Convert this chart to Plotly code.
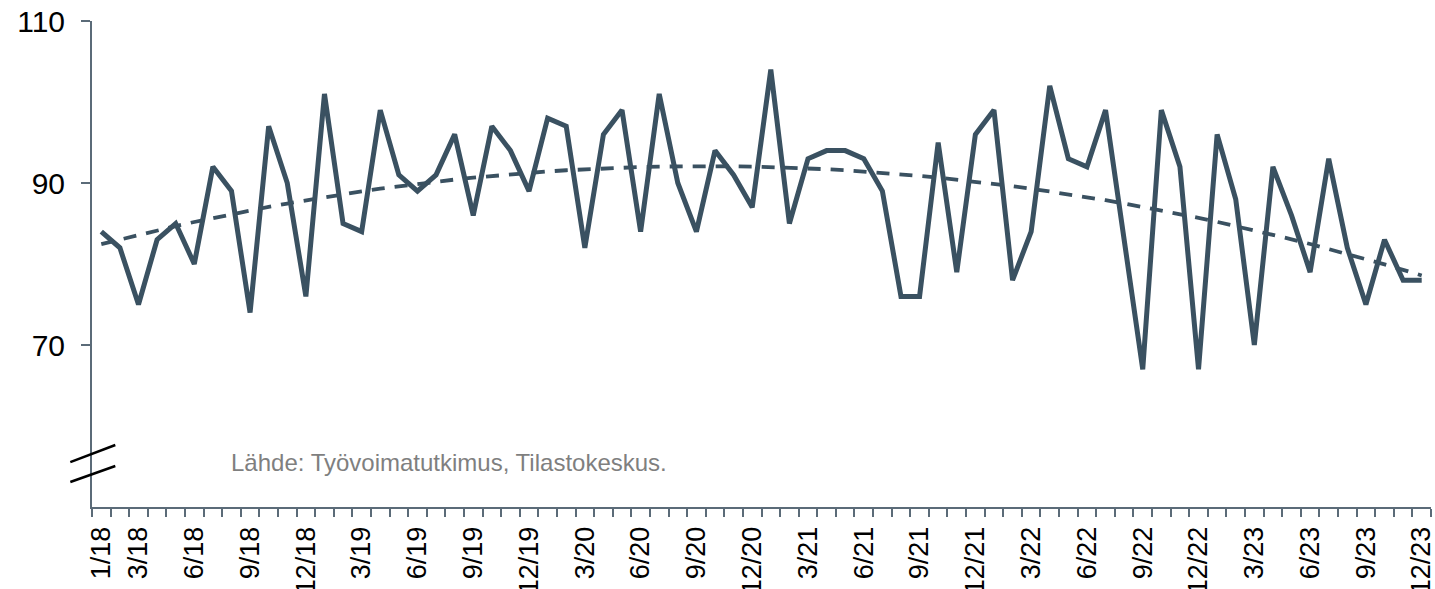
import numpy as np
import plotly.graph_objects as go

months = [f"{m}/{y}" for y in range(18, 24) for m in range(1, 13)]

values_2018 = [84, 82, 75, 83, 85, 80, 92, 89, 74, 97, 90, 76]
values_2019 = [101, 85, 84, 99, 91, 89, 91, 96, 86, 97, 94, 89]
values_2020 = [98, 97, 82, 96, 99, 84, 101, 90, 84, 94, 91, 87]
values_2021 = [104, 85, 93, 94, 94, 93, 89, 76, 76, 95, 79, 96]
values_2022 = [99, 78, 84, 102, 93, 92, 99, 83, 67, 99, 92, 67]
values_2023 = [96, 88, 70, 92, 86, 79, 93, 82, 75, 83, 78, 78]
values = values_2018 + values_2019 + values_2020 + values_2021 + values_2022 + values_2023

tick_labels = ["1/18", "3/18", "6/18", "9/18", "12/18",
               "3/19", "6/19", "9/19", "12/19",
               "3/20", "6/20", "9/20", "12/20",
               "3/21", "6/21", "9/21", "12/21",
               "3/22", "6/22", "9/22", "12/22",
               "3/23", "6/23", "9/23", "12/23"]
y_ticks = [70, 90, 110]
source_text = "Lähde: Työvoimatutkimus, Tilastokeskus."

x_idx = np.arange(len(months))
tick_pos = [months.index(t) for t in tick_labels]

# polynomial trendline (as in the original chart's trendline)
coef = np.polyfit(x_idx, values, 2)
trend = np.polyval(coef, x_idx)

LINE = "#3a5161"
AXIS = "#5b6b78"

fig = go.Figure()
fig.add_trace(go.Scatter(x=x_idx, y=trend, mode="lines",
                         line=dict(color=LINE, width=3.8, dash="13px,10px"),
                         hoverinfo="skip", showlegend=False))
fig.add_trace(go.Scatter(x=x_idx, y=values, mode="lines",
                         line=dict(color=LINE, width=5),
                         text=months, showlegend=False))

fig.update_layout(
    width=1435, height=589,
    margin=dict(l=92, r=4, t=21, b=82),
    plot_bgcolor="white", paper_bgcolor="white",
    font=dict(family="Liberation Sans, Arial, sans-serif", color="black"),
    xaxis=dict(
        range=[-0.5, len(months) - 0.5],
        automargin=False,
        tickmode="array", tickvals=tick_pos, ticktext=tick_labels,
        tickangle=-90, ticks="", ticklabelstandoff=7,
        ticklabeloverflow="allow",
        tickfont=dict(size=27, color="black"),
        showline=True, linecolor=AXIS, linewidth=2,
        showgrid=False, zeroline=False,
        minor=dict(tickmode="array",
                   tickvals=[i - 0.5 for i in range(len(months) + 1)],
                   ticks="outside", ticklen=8, tickwidth=2, tickcolor=AXIS,
                   showgrid=False),
    ),
    yaxis=dict(
        range=[50, 110],
        automargin=False,
        tickmode="array", tickvals=y_ticks,
        ticks="outside", ticklen=9, tickwidth=2, tickcolor=AXIS,
        tickfont=dict(size=30, color="black"),
        ticklabelstandoff=10,
        showline=True, linecolor=AXIS, linewidth=2,
        showgrid=False, zeroline=False,
    ),
)

# axis break marks
for y0, y1 in [(0.0925, 0.1275), (0.0514, 0.0843)]:
    fig.add_shape(type="line", xref="paper", yref="paper",
                  x0=-0.0162, x1=0.0174, y0=y0, y1=y1,
                  line=dict(color="black", width=2.5))

fig.add_annotation(text=source_text, xref="paper", yref="paper",
                   x=0.102, y=0.092, xanchor="left", yanchor="middle",
                   showarrow=False, font=dict(size=24, color="#7f7f7f"))

fig.write_html("out.html",
               config={"displayModeBar": False},
               post_script="document.body.style.margin='0';"
                           "document.body.style.overflow='hidden';")
